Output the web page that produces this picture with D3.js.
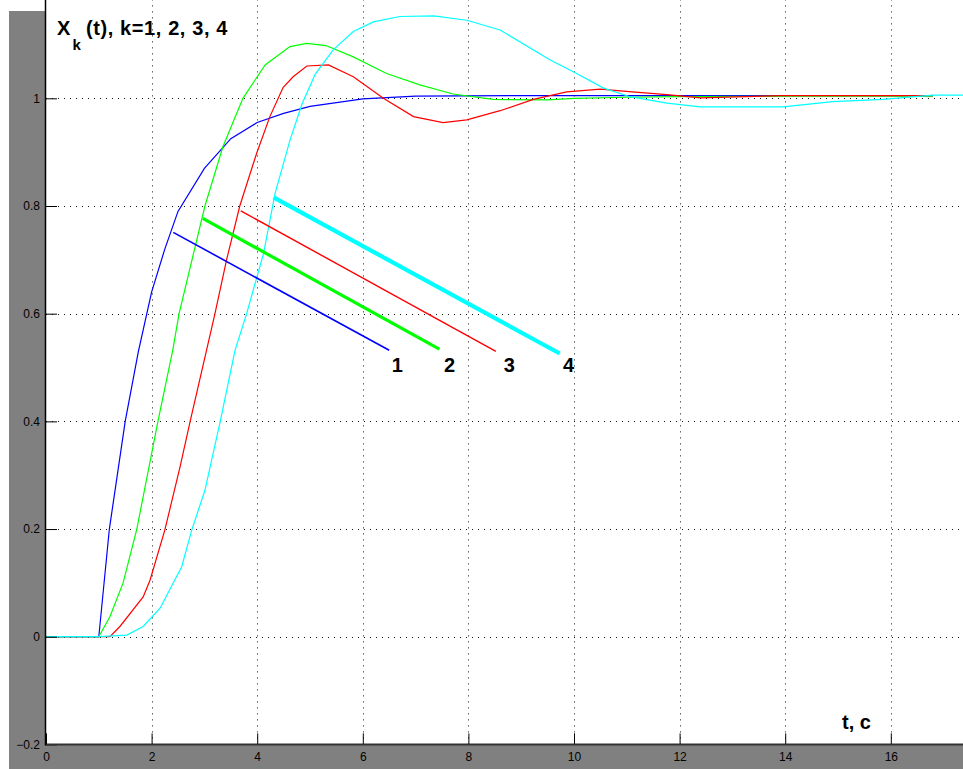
<!DOCTYPE html>
<html>
<head>
<meta charset="utf-8">
<script src="https://cdn.jsdelivr.net/npm/d3@7"></script>
<style>
  body { margin: 0; background: #fff; }
  svg { display: block; font-family: "Liberation Sans", Arial, sans-serif; }
</style>
</head>
<body>
<script>
// step responses X_k(t)
const t1 = [0, 1, 1.2, 1.5, 1.75, 2.0, 2.25, 2.5, 3.0, 3.5, 4.0, 4.5, 5.0, 6.0, 7.0, 9.0, 16.8];
const x1 = [0, 0, 0.2, 0.4, 0.53, 0.64, 0.72, 0.79, 0.87, 0.925, 0.955, 0.972, 0.985, 0.999, 1.004, 1.005, 1.005];

const t2 = [0, 1, 1.21, 1.46, 1.72, 2.12, 2.4, 2.52, 3.01, 3.35, 3.73, 3.96, 4.15, 4.62, 4.94, 5.3, 5.82, 6.45, 7.08, 7.71, 8.47, 9.5, 10.0, 11.0, 12.0, 14.0, 16.8];
const x2 = [0, 0, 0.037, 0.10, 0.2, 0.4, 0.532, 0.6, 0.8, 0.91, 1.0, 1.034, 1.062, 1.096, 1.102, 1.098, 1.077, 1.046, 1.025, 1.008, 0.998, 0.997, 1.0, 1.002, 1.003, 1.004, 1.004];

const t3 = [0, 1, 1.21, 1.40, 1.84, 1.97, 2.25, 2.54, 2.73, 3.04, 3.2, 3.42, 3.67, 3.99, 4.24, 4.49, 4.68, 4.94, 5.35, 5.82, 6.39, 6.96, 7.52, 7.97, 8.6, 9.23, 9.86, 10.5, 11.1, 11.76, 12.4, 13.96, 16.8];
const x3 = [0, 0, 0, 0.019, 0.074, 0.105, 0.198, 0.316, 0.4, 0.532, 0.6, 0.7, 0.8, 0.898, 0.966, 1.02, 1.04, 1.06, 1.062, 1.04, 1.0, 0.966, 0.955, 0.96, 0.977, 0.998, 1.012, 1.017, 1.012, 1.007, 1.001, 1.005, 1.005];

const t4 = [0, 1, 1.53, 1.84, 2.16, 2.57, 2.76, 3.01, 3.3, 3.58, 3.8, 4.12, 4.34, 4.62, 4.85, 5.1, 5.44, 5.82, 6.2, 6.7, 7.34, 7.97, 8.6, 9.55, 10.05, 10.56, 11.06, 11.76, 12.39, 13.96, 14.9, 15.85, 16.8, 18];
const x4 = [0, 0, 0.003, 0.019, 0.053, 0.13, 0.198, 0.272, 0.4, 0.532, 0.6, 0.712, 0.824, 0.922, 0.99, 1.045, 1.09, 1.124, 1.142, 1.152, 1.153, 1.145, 1.127, 1.071, 1.046, 1.019, 1.003, 0.991, 0.984, 0.984, 0.994, 0.998, 1.006, 1.006];

const colors = ['#0000ff', '#00ff00', '#ff0000', '#00ffff'];
const labels = ['1', '2', '3', '4'];

// pointer lines to the curve numbers: [t0, x0, t1, x1]
const pointers = [
  [2.41, 0.751, 6.50, 0.532],
  [2.97, 0.777, 7.45, 0.534],
  [3.69, 0.791, 8.52, 0.530],
  [4.31, 0.816, 9.73, 0.526]
];
const pointerWidths = [1.6, 3.2, 1.4, 4.2];
const labelPos = [[6.55, 0.492], [7.54, 0.492], [8.67, 0.492], [9.79, 0.492]];

const xTicks = [0, 2, 4, 6, 8, 10, 12, 14, 16];
const yTicks = [-0.2, 0, 0.2, 0.4, 0.6, 0.8, 1];

const W = 963, H = 769;
const svg = d3.select('body').append('svg').attr('width', W).attr('height', H);

const x = d3.scaleLinear().domain([0, 18]).range([46, 46 + 52.8 * 18]);
const y = d3.scaleLinear().domain([-0.2, 1.2]).range([744.4, 744.4 - 1.4 * 538.4]);

// figure background and axes box
svg.append('rect').attr('x', 9).attr('y', 11).attr('width', W - 9).attr('height', H - 11).attr('fill', '#808080');
svg.append('rect').attr('x', x(0)).attr('y', 0).attr('width', W - x(0)).attr('height', y(-0.2)).attr('fill', '#fff');

svg.append('clipPath').attr('id', 'plot')
  .append('rect').attr('x', x(0)).attr('y', 0).attr('width', W - x(0)).attr('height', y(-0.2));

// grid
const grid = svg.append('g').attr('stroke', '#111').attr('stroke-width', 1).attr('stroke-dasharray', '1,5');
grid.selectAll('.gx').data(xTicks.filter(d => d > 0)).enter().append('line')
  .attr('x1', d => Math.round(x(d)) + 0.5).attr('x2', d => Math.round(x(d)) + 0.5)
  .attr('y1', y(-0.2)).attr('y2', 0);
grid.selectAll('.gy').data(yTicks.filter(d => d > -0.2)).enter().append('line')
  .attr('y1', d => Math.round(y(d)) + 0.5).attr('y2', d => Math.round(y(d)) + 0.5)
  .attr('x1', x(0)).attr('x2', W);

// curves
const series = [[t1, x1], [t2, x2], [t3, x3], [t4, x4]];
const line = d3.line().x(d => x(d[0])).y(d => y(d[1]));
const curves = svg.append('g').attr('clip-path', 'url(#plot)');
series.forEach((s, i) => {
  curves.append('path')
    .datum(d3.zip(s[0], s[1]))
    .attr('d', line)
    .attr('fill', 'none')
    .attr('stroke', colors[i])
    .attr('stroke-width', 1.2);
});

// pointer lines and numbers
pointers.forEach((p, i) => {
  svg.append('line')
    .attr('x1', x(p[0])).attr('y1', y(p[1]))
    .attr('x2', x(p[2])).attr('y2', y(p[3]))
    .attr('stroke', colors[i])
    .attr('stroke-width', pointerWidths[i]);
  svg.append('text')
    .attr('x', x(labelPos[i][0])).attr('y', y(labelPos[i][1]))
    .attr('font-size', 20).attr('font-weight', 'bold')
    .text(labels[i]);
});

// axes
const xAxis = d3.axisBottom(x).tickValues(xTicks).tickSize(-11).tickPadding(8).tickFormat(d3.format('d'));
const yAxis = d3.axisLeft(y).tickValues(yTicks).tickSize(-11).tickPadding(6).tickFormat(d => d === 1 ? '1' : d3.format('.1f')(d).replace('0.0', '0'));

const gx = svg.append('g').attr('transform', `translate(0,${y(-0.2)})`).call(xAxis);
const gy = svg.append('g').attr('transform', `translate(${x(0)},0)`).call(yAxis);

[gx, gy].forEach(g => {
  g.select('.domain').remove();
  g.selectAll('.tick line').attr('stroke', '#000').attr('stroke-width', 1);
  g.selectAll('.tick text').attr('fill', '#000').attr('font-size', 12)
    .attr('font-family', '"Liberation Sans", Arial, sans-serif');
});
gx.selectAll('.tick text').attr('dy', '0.7em');

svg.append('line').attr('x1', x(0)).attr('x2', W).attr('y1', y(-0.2)).attr('y2', y(-0.2))
  .attr('stroke', '#333').attr('stroke-width', 2);
svg.append('line').attr('x1', x(0) - 0.5).attr('x2', x(0) - 0.5).attr('y1', 0).attr('y2', y(-0.2) + 1)
  .attr('stroke', '#000').attr('stroke-width', 1.5);

// title and axis label
const title = svg.append('g').attr('font-weight', 'bold').attr('fill', '#000');
title.append('text').attr('x', 57).attr('y', 35).attr('font-size', 20).text('X');
title.append('text').attr('x', 72.5).attr('y', 50).attr('font-size', 15).text('k');
title.append('text').attr('x', 86).attr('y', 35).attr('font-size', 20).attr('letter-spacing', 0.6).text('(t), k=1, 2, 3, 4');

svg.append('text').attr('x', 842).attr('y', 729).attr('font-size', 20).attr('font-weight', 'bold').text('t, c');
</script>
</body>
</html>
